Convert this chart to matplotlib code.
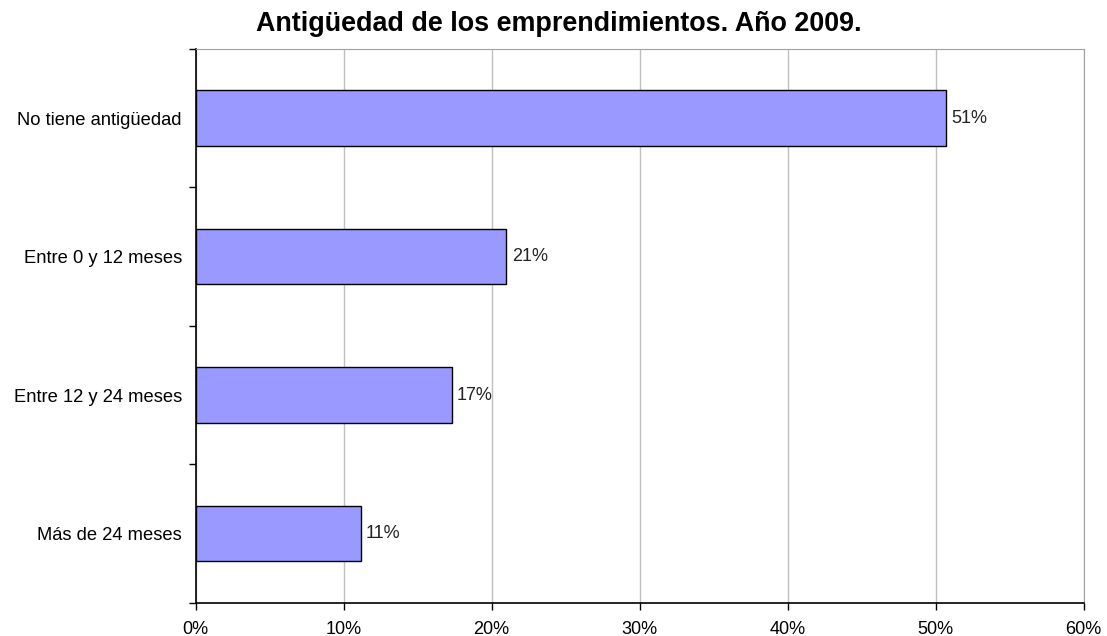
import matplotlib
matplotlib.use('Agg')
import matplotlib.pyplot as plt
from matplotlib.ticker import FixedLocator, PercentFormatter

# Data
categories = ['No tiene antigüedad', 'Entre 0 y 12 meses', 'Entre 12 y 24 meses', 'Más de 24 meses']
values = [50.7, 21.0, 17.3, 11.15]
value_labels = ['51%', '21%', '17%', '11%']
title = 'Antigüedad de los emprendimientos. Año 2009.'

plt.rcParams['font.family'] = ['Liberation Sans', 'DejaVu Sans']

fig = plt.figure(figsize=(11.07, 6.36), dpi=100)
ax = fig.add_axes([0.1768, 0.0524, 0.802, 0.8706])

ypos = list(range(len(categories)))[::-1]
ax.barh(ypos, values, height=0.40, color='#9999FF', edgecolor='black', linewidth=1.0, zorder=3)

# value labels just right of each bar
for y, v, lab in zip(ypos, values, value_labels):
    ax.text(v + 0.35, y, lab, va='center', ha='left', fontsize=13, color='#222222', zorder=4)

ax.set_xlim(0, 60)
ax.set_ylim(-0.5, len(categories) - 0.5)

ax.set_xticks(range(0, 61, 10))
ax.xaxis.set_major_formatter(PercentFormatter(decimals=0))
ax.set_yticks(ypos)
ax.set_yticklabels(categories)
# tick marks sit between the categories, labels at the centres
ax.yaxis.set_minor_locator(FixedLocator([-0.5, 0.5, 1.5, 2.5, 3.5]))

ax.tick_params(axis='y', which='major', length=0, pad=10, labelsize=13.2)
ax.tick_params(axis='y', which='minor', length=5, width=1, direction='out', color='black')
ax.tick_params(axis='x', which='major', length=5, width=1, direction='out', pad=8, labelsize=13)

ax.grid(axis='x', color='#C0C0C0', linewidth=1, zorder=0)
ax.set_axisbelow(True)

for side in ['top', 'right']:
    ax.spines[side].set_color('#A0A0A0')
for side in ['left', 'bottom']:
    ax.spines[side].set_color('black')
    ax.spines[side].set_linewidth(1.2)

fig.text(0.505, 0.9513, title, ha='center', va='baseline', fontsize=19.4, fontweight='bold')

plt.savefig('out.png', dpi=100)
